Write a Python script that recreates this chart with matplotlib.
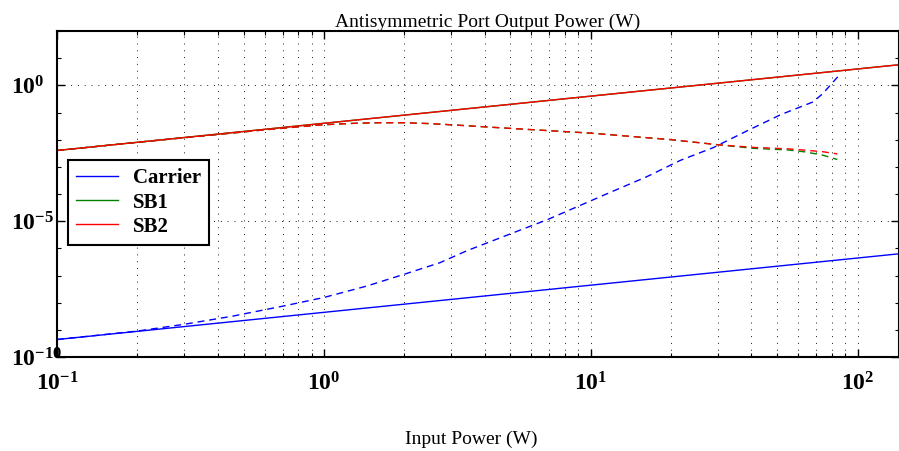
import matplotlib
matplotlib.use('Agg')
import matplotlib.pyplot as plt
from matplotlib.ticker import FixedLocator, FuncFormatter
import numpy as np

plt.rcParams['font.family'] = 'Liberation Serif'
plt.rcParams['mathtext.fontset'] = 'custom'
plt.rcParams['mathtext.rm'] = 'Liberation Serif'
plt.rcParams['mathtext.bf'] = 'Liberation Serif:bold'

# solid lines (straight in log-log)
x_solid = [0.1, 1, 10, 100, 150]
carrier_solid = [4.4e-10, 4.4e-9, 4.4e-8, 4.4e-7, 6.6e-7]
sb1_solid = [4.0e-3, 4.0e-2, 4.0e-1, 4.0, 6.0]
sb2_solid = [4.0e-3, 4.0e-2, 4.0e-1, 4.0, 6.0]

# dashed carrier
x_carrier_dash = [0.1, 0.2, 0.3, 0.456, 0.7, 1.0, 1.45, 2.05, 2.72, 3.43, 5, 6.9,
                  10, 12.1, 16.2, 21.7, 28.8, 38.5, 51.5, 68.1, 74, 84.6]
carrier_dash = [4.4e-10, 9.0e-10, 1.6e-9, 3.2e-9, 7.4e-9, 1.55e-8, 4.1e-8, 1.2e-7,
                2.95e-7, 8.1e-7, 3.4e-6, 1.15e-5, 5.6e-5, 1.26e-4, 4.3e-4, 1.74e-3,
                5.1e-3, 2.1e-2, 8.3e-2, 0.245, 0.49, 2.14]

# dashed sidebands
x_sb_dash = [0.1, 0.2, 0.4, 0.6, 0.8, 1.0, 1.3, 1.6, 2.0, 2.5, 3.2, 5, 10, 20, 30,
             40.5, 54.6, 63.5, 74, 84]
sb2_dash = [4.0e-3, 8.0e-3, 1.55e-2, 2.3e-2, 2.95e-2, 3.55e-2, 4.0e-2, 4.2e-2, 4.2e-2,
            3.9e-2, 3.4e-2, 2.6e-2, 1.74e-2, 1.0e-2, 6.5e-3, 5.2e-3, 4.6e-3, 4.1e-3,
            3.6e-3, 3.0e-3]
sb1_dash = [4.0e-3, 8.0e-3, 1.55e-2, 2.3e-2, 2.95e-2, 3.55e-2, 4.0e-2, 4.2e-2, 4.2e-2,
            3.9e-2, 3.4e-2, 2.6e-2, 1.74e-2, 1.0e-2, 6.5e-3, 4.8e-3, 4.2e-3, 3.55e-3,
            2.7e-3, 1.86e-3]

labels = ['Carrier', 'SB1', 'SB2']
colors = ['#0000ff', '#008000', '#ff0000']

fig = plt.figure(figsize=(8.99, 4.51), dpi=100)
ax = fig.add_axes([57 / 899, 94 / 451, 842 / 899, 326 / 451])

dash = (0, (5, 3.5))
ax.loglog(x_solid, carrier_solid, color=colors[0], lw=1.0, label=labels[0])
ax.loglog(x_solid, sb1_solid, color=colors[1], lw=1.0, label=labels[1])
ax.loglog(x_solid, sb2_solid, color=colors[2], lw=1.0, label=labels[2])
ax.loglog(x_carrier_dash, carrier_dash, color=colors[0], lw=1.0, linestyle=dash)
ax.loglog(x_sb_dash, sb1_dash, color=colors[1], lw=1.0, linestyle=dash)
ax.loglog(x_sb_dash, sb2_dash, color=colors[2], lw=1.0, linestyle=dash)

ax.set_xlim(0.1, 143)
ax.set_ylim(1e-10, 1e2)

ax.yaxis.set_major_locator(FixedLocator([1e-10, 1e-5, 1e0]))
ax.yaxis.set_minor_locator(FixedLocator([10.0 ** k for k in range(-10, 3) if k % 5 != 0]))
ax.xaxis.set_major_locator(FixedLocator([0.1, 1, 10, 100]))
ax.xaxis.set_minor_locator(FixedLocator([m * 10.0 ** k for k in range(-1, 3) for m in range(2, 10)]))

fmt = FuncFormatter(lambda v, p: r'$\mathbf{10^{%d}}$' % int(round(np.log10(v))))
ax.xaxis.set_major_formatter(fmt)
ax.yaxis.set_major_formatter(fmt)
ax.xaxis.set_minor_formatter(FuncFormatter(lambda v, p: ''))
ax.yaxis.set_minor_formatter(FuncFormatter(lambda v, p: ''))

ax.tick_params(which='both', direction='in', top=True, right=True, labelsize=17)
ax.tick_params(which='major', length=6, width=1.0)
ax.tick_params(which='minor', length=3, width=0.8)
ax.tick_params(axis='x', pad=11)
ax.tick_params(axis='y', pad=33)
for lab in ax.get_yticklabels():
    lab.set_horizontalalignment('left')

grid_style = dict(color='0.1', linestyle=(0, (1, 6)), linewidth=0.7)
ax.xaxis.grid(True, which='both', **grid_style)
ax.yaxis.grid(True, which='major', **grid_style)

for s in ax.spines.values():
    s.set_linewidth(1.5)

ax.set_title('Antisymmetric Port Output Power (W)', fontsize=14, pad=3, x=0.511)
ax.set_xlabel('Input Power (W)', fontsize=14, labelpad=25)
ax.xaxis.label.set_x(0.492)

leg = ax.legend(loc='upper left', bbox_to_anchor=(0.013, 0.604),
                prop={'weight': 'bold', 'size': 15}, fancybox=False, framealpha=1,
                edgecolor='black', handlelength=2.0, handletextpad=0.7,
                labelspacing=0.2, borderpad=0.4, borderaxespad=0)
leg.get_frame().set_linewidth(1.5)

fig.savefig('out.png', dpi=100)
